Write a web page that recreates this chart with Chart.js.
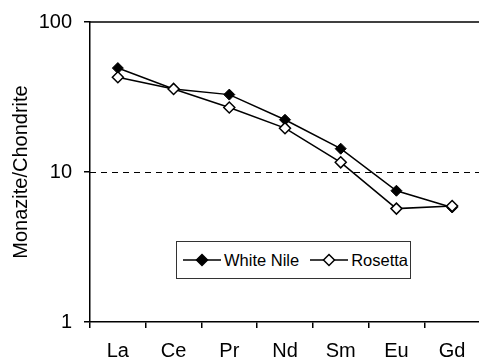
<!DOCTYPE html>
<html lang="en">
  <head>
    <meta charset="UTF-8" />
    <title>Monazite/Chondrite</title>
    <style>
      body {
        margin: 0;
        background: #fff;
        overflow: hidden;
        font-family: "Liberation Sans", Arial, sans-serif;
      }
      .wrap {
        position: relative;
        width: 487px;
        height: 360px;
      }
      #legend {
        position: absolute;
        left: 176px;
        top: 241px;
        width: 233px;
        height: 36px;
        border: 1px solid #333;
        background: #fff;
        display: flex;
        align-items: center;
        font-size: 16.5px;
        color: #000;
      }
      #legend .item {
        display: flex;
        align-items: center;
        margin-left: 5px;
      }
      #legend .item + .item {
        margin-left: 10px;
      }
      #legend svg {
        margin-right: 2px;
      }
    </style>
    <script src="https://cdn.jsdelivr.net/npm/chart.js"></script>
  </head>
  <body>
    <div class="wrap">
      <canvas id="reeChart" width="487" height="360"></canvas>
      <div id="legend"></div>
    </div>
    <script>
      var elements = ["La", "Ce", "Pr", "Nd", "Sm", "Eu", "Gd"];
      var whiteNile = [49.3, 35.8, 32.8, 22.3, 14.3, 7.5, 5.8];
      var rosetta = [42.8, 35.8, 26.9, 19.6, 11.6, 5.7, 5.93];
      var yTicks = [1, 10, 100];

      var font = { family: "'Liberation Sans', Arial, sans-serif", size: 20 };
      var yFont = { family: "'Liberation Sans', Arial, sans-serif", size: 20, lineHeight: 1 };

      // top frame line and dashed line at 10
      var framePlugin = {
        id: "frame",
        beforeDatasetsDraw: function (chart) {
          var ctx = chart.ctx;
          var area = chart.chartArea;
          var y10 = chart.scales.y.getPixelForValue(10);
          ctx.save();
          ctx.strokeStyle = "#000";
          ctx.lineWidth = 1;
          ctx.setLineDash([6, 5]);
          ctx.beginPath();
          ctx.moveTo(area.left, Math.round(y10) + 0.5);
          ctx.lineTo(area.right, Math.round(y10) + 0.5);
          ctx.stroke();
          ctx.setLineDash([]);
          ctx.lineWidth = 1.5;
          ctx.beginPath();
          ctx.moveTo(area.left, area.top);
          ctx.lineTo(area.right, area.top);
          ctx.stroke();
          ctx.restore();
        },
      };

      var ctx = document.getElementById("reeChart").getContext("2d");
      var chart = new Chart(ctx, {
        type: "line",
        data: {
          labels: elements,
          datasets: [
            {
              label: "White Nile",
              data: whiteNile,
              borderColor: "#000",
              borderWidth: 1.5,
              pointStyle: "rectRot",
              pointRadius: 5.5,
              pointBackgroundColor: "#000",
              pointBorderColor: "#000",
              pointBorderWidth: 1,
              fill: false,
              order: 1,
            },
            {
              label: "Rosetta",
              data: rosetta,
              borderColor: "#000",
              borderWidth: 1.5,
              pointStyle: "rectRot",
              pointRadius: 5.5,
              pointBackgroundColor: "#fff",
              pointBorderColor: "#000",
              pointBorderWidth: 1.5,
              fill: false,
              order: 0,
            },
          ],
        },
        options: {
          responsive: false,
          animation: false,
          layout: { padding: { top: 20, right: 0, left: 0, bottom: 0 } },
          plugins: {
            legend: { display: false },
            tooltip: { enabled: false },
          },
          scales: {
            x: {
              offset: true,
              grid: {
                offset: true,
                drawOnChartArea: false,
                drawTicks: true,
                tickLength: 6,
                color: "#000",
                lineWidth: 1.5,
              },
              border: { color: "#000", width: 1.5 },
              ticks: { color: "#000", font: font, padding: 11, maxRotation: 0 },
              afterFit: function (scale) {
                scale.height = 38;
              },
            },
            y: {
              type: "logarithmic",
              min: 1,
              max: 100,
              afterBuildTicks: function (scale) {
                scale.ticks = yTicks.map(function (v) {
                  return { value: v };
                });
              },
              grid: {
                drawOnChartArea: false,
                drawTicks: true,
                tickLength: 6,
                color: "#000",
                lineWidth: 1.5,
              },
              border: { color: "#000", width: 1.5 },
              ticks: {
                color: "#000",
                font: yFont,
                padding: 12,
                callback: function (value) {
                  return String(value);
                },
              },
              title: {
                display: true,
                text: "Monazite/Chondrite",
                color: "#000",
                font: font,
                padding: { top: 9, bottom: 0 },
              },
              afterFit: function (scale) {
                scale.width = 90;
              },
            },
          },
        },
        plugins: [framePlugin],
      });

      // legend inside the plot
      var legend = document.getElementById("legend");
      chart.data.datasets.forEach(function (ds) {
        var item = document.createElement("span");
        item.className = "item";
        var fill = ds.pointBackgroundColor;
        item.innerHTML =
          '<svg width="40" height="14" viewBox="0 0 40 14">' +
          '<line x1="1" y1="7" x2="39" y2="7" stroke="#000" stroke-width="1.5"/>' +
          '<polygon points="20,1.5 25.5,7 20,12.5 14.5,7" fill="' + fill +
          '" stroke="#000" stroke-width="1.5"/></svg>';
        var label = document.createElement("span");
        label.textContent = ds.label;
        item.appendChild(label);
        legend.appendChild(item);
      });
    </script>
  </body>
</html>
